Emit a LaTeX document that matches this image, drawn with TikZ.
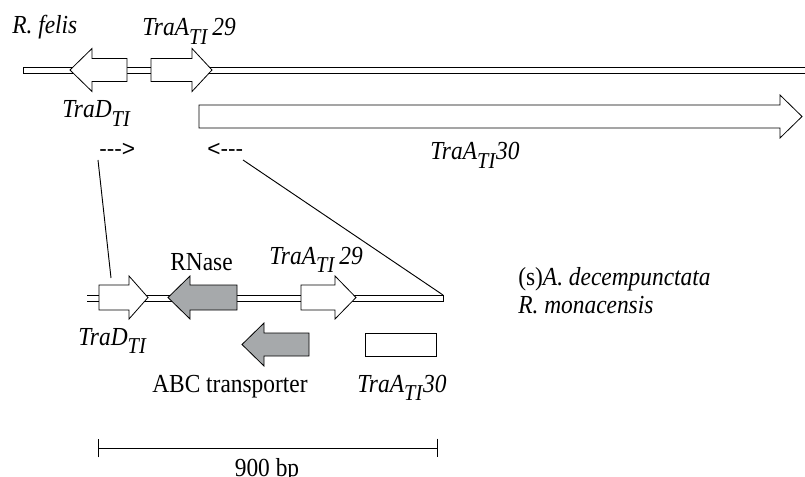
\documentclass[tikz,border=0pt]{standalone}
\usepackage{fontspec}
\setmainfont{Liberation Serif}[FakeStretch=0.9]
\newfontfamily\dashfont{Liberation Sans}
\usepackage{tikz}
\usetikzlibrary{arrows.meta, positioning}
\definecolor{genegray}{RGB}{166,169,171}
\newcommand{\tisub}{\raisebox{-0.32em}{\fontsize{17}{17}\selectfont\textit{TI}}}

\begin{document}
\begin{tikzpicture}[x=0.75pt, y=-0.75pt,
            chrom/.style={draw, line width=0.6pt, fill=white},
            gene/.style={draw, line width=0.6pt, fill=white},
            grgene/.style={gene, fill=genegray},
            lbl/.style={anchor=base west, inner sep=0pt, font=\fontsize{19.5}{22}\selectfont},
            dsh/.style={anchor=west, inner sep=0pt, font=\dashfont\fontsize{17}{20}\selectfont}]

            \useasboundingbox (0,0) rectangle (805,477);

            % R. felis
            \draw[chrom] (805,67) -- (23,67) -- (23,73) -- (805,73);
            \draw[gene] (127,58.5) -- (92,58.5) -- (92,48.5) -- (70,70) -- (92,91.5) -- (92,81.5) -- (127,81.5) -- cycle;
            \draw[gene] (151,58.5) -- (192,58.5) -- (192,48.5) -- (212,70) -- (192,91.5) -- (192,81.5) -- (151,81.5) -- cycle;
            \draw[gene] (199,105) -- (780,105) -- (780,95) -- (802,116.5) -- (780,138) -- (780,128) -- (199,128) -- cycle;

            \node[lbl] (felis) at (12,34) {\textit{R. felis}};
            \node[lbl] (traAup) at (142,36) {\textit{TraA}\tisub\,\textit{29}};
            \node[lbl] (traDup) at (62,118) {\textit{TraD}\tisub};
            \node[lbl] (traAbig) at (430,160) {\textit{TraA}\tisub\textit{30}};

            \node[dsh] (dashR) at (99,150) {-{}-{}->};
            \node[dsh] (dashL) at (207,150) {<-{}-{}-};

            % A. decempunctata / R. monacensis
            \draw[chrom] (87,295) -- (443,295) -- (443,301) -- (87,301);
            \draw[gene] (99,285) -- (129,285) -- (129,276) -- (148,297.5) -- (129,319) -- (129,310) -- (99,310) -- cycle;
            \draw[grgene] (237,285) -- (190,285) -- (190,276) -- (168,297.5) -- (190,319) -- (190,310) -- (237,310) -- cycle;
            \draw[gene] (301,285) -- (335,285) -- (335,276) -- (356,297.5) -- (335,319) -- (335,310) -- (301,310) -- cycle;
            \draw[grgene] (309,333) -- (264,333) -- (264,323) -- (242,344.5) -- (264,366) -- (264,356) -- (309,356) -- cycle;
            \draw[gene] (365,333) rectangle (436,356);

            \node[lbl] (rnase) at (170,270) {RNase};
            \node[lbl] (traAlow) at (269,264) {\textit{TraA}\tisub\,\textit{29}};
            \node[lbl] (traDlow) at (78,345) {\textit{TraD}\tisub};
            \node[lbl] (abc) at (152,392) {ABC transporter};
            \node[lbl] (traAsmall) at (357,392) {\textit{TraA}\tisub\textit{30}};
            \node[lbl] (host1) at (518,285) {(s)\textit{A. decempunctata}};
            \node[lbl] (host2) at (518,313) {\textit{R. monacensis}};

            % zoom lines
            \coordinate (zoomLa) at (98,160);
            \coordinate (zoomLb) at (111,278);
            \coordinate (zoomRa) at (243,160);
            \coordinate (zoomRb) at (443,295);
            \draw[line width=0.7pt] (zoomLa) -- (zoomLb);
            \draw[line width=0.7pt] (zoomRa) -- (zoomRb);

            % scale bar
            \coordinate (scaleL) at (98,448);
            \coordinate (scaleR) at (438,448);
            \draw[line width=0.7pt, {Bar[width=14pt]}-{Bar[width=14pt]}] (scaleL) -- (scaleR);
            \node[lbl, anchor=base] (scale) at (267,476) {900 bp};
        \end{tikzpicture}
\end{document}
